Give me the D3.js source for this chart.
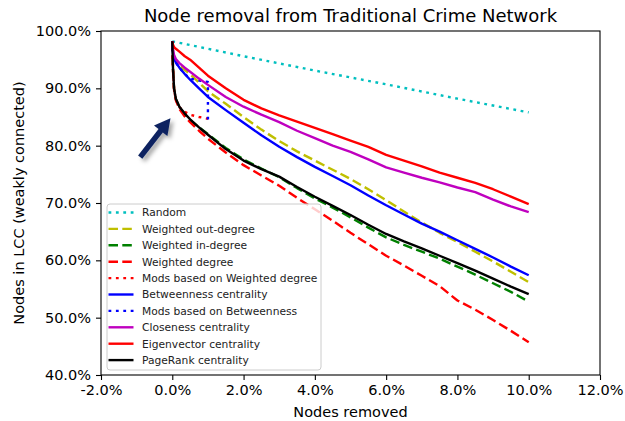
<!DOCTYPE html>
<html>
<head>
<meta charset="utf-8">
<script src="https://cdn.jsdelivr.net/npm/d3@7/dist/d3.min.js"></script>
<style>
  html, body { margin: 0; padding: 0; background: #fff; }
  svg { display: block; font-family: "DejaVu Sans", sans-serif; }
</style>
</head>
<body>
<svg id="chart" width="625" height="421"></svg>
<script>
// Share of nodes removed (%) at which each centrality-based attack was sampled
const removedPct = [0, 0.02, 0.05, 0.1, 0.2, 0.35, 0.5, 0.75, 1, 1.5, 2, 2.5, 3, 3.5, 4, 4.5, 5, 5.5, 6, 6.5, 7, 7.5, 8, 8.5, 9, 9.5, 10];

// Share of nodes left in the largest (weakly) connected component (%)
const outDegreeLcc   = [98.2, 96.5, 95.5, 94.8, 94.0, 93.2, 92.5, 91.0, 89.5, 87.3, 85.0, 82.8, 80.8, 79.0, 77.4, 75.8, 74.2, 72.4, 70.5, 68.5, 66.6, 64.8, 63.2, 61.5, 59.8, 58.0, 56.2];
const inDegreeLcc    = [98.2, 93.4, 89.9, 88.1, 86.7, 85.5, 84.5, 83.2, 82.0, 79.6, 77.6, 76.0, 74.5, 72.6, 70.8, 69.2, 67.5, 65.7, 64.0, 62.7, 61.5, 60.3, 58.9, 57.5, 56.0, 54.5, 52.8];
const degreeLcc      = [98.2, 93.2, 89.7, 87.9, 86.4, 85.1, 84.1, 82.6, 81.2, 78.8, 76.6, 74.8, 73.0, 70.9, 68.9, 66.9, 64.8, 62.8, 60.8, 59.1, 57.3, 55.5, 53.0, 51.4, 49.6, 47.7, 45.7];
const betweennessLcc = [98.2, 96.2, 95.2, 94.5, 93.6, 92.5, 91.5, 90.0, 88.5, 86.2, 84.0, 81.8, 79.8, 78.0, 76.3, 74.7, 73.1, 71.3, 69.6, 68.0, 66.4, 65.0, 63.5, 62.0, 60.5, 58.9, 57.4];
const closenessLcc   = [98.2, 96.8, 95.8, 95.1, 94.4, 93.6, 92.9, 91.7, 90.6, 88.5, 86.8, 85.4, 84.1, 82.6, 81.3, 80.0, 78.9, 77.6, 76.2, 75.3, 74.4, 73.6, 72.7, 71.9, 70.6, 69.4, 68.4];
const eigenvectorLcc = [98.2, 97.6, 97.2, 96.9, 96.4, 95.6, 95.0, 93.6, 92.2, 90.0, 88.0, 86.5, 85.3, 84.2, 83.1, 82.0, 80.9, 79.8, 78.4, 77.4, 76.4, 75.3, 74.4, 73.5, 72.4, 71.1, 69.8];
const pageRankLcc    = [98.2, 93.5, 90.0, 88.2, 86.8, 85.6, 84.6, 83.2, 81.9, 79.4, 77.4, 75.9, 74.6, 72.8, 71.1, 69.5, 67.9, 66.2, 64.6, 63.3, 62.1, 60.8, 59.5, 58.2, 56.8, 55.4, 54.1];

// Random removal baseline
const randomPct = [0, 2, 4, 6, 8, 10];
const randomLcc = [98.2, 95.6, 93.1, 90.7, 88.2, 85.8];

// Modified strategies, run only up to 1% removal
const modsDegreePct  = [0, 0.02, 0.05, 0.1, 0.2, 0.35, 0.5, 0.75, 1];
const modsDegreeLcc  = [98.2, 93.3, 89.8, 88.0, 86.7, 85.9, 85.4, 85.0, 84.7];
const modsBetweenPct = [0, 0.02, 0.05, 0.1, 0.2, 0.35, 0.5, 0.65, 0.8, 1, 1];
const modsBetweenLcc = [98.2, 96.2, 95.2, 94.5, 93.6, 92.5, 91.7, 91.5, 91.3, 91.1, 84.5];

// Axis ticks
const xTicks = [-2, 0, 2, 4, 6, 8, 10, 12];
const yTicks = [40, 50, 60, 70, 80, 90, 100];

// Annotation arrow (data coordinates: tail -> tip)
const arrowTail = [-0.9, 78.0];
const arrowTip  = [-0.05, 84.8];

const DOT = "2.8,4.6";
const DASH = "9.5,4.3";

const series = [
  { name: "Random",                        x: randomPct,      y: randomLcc,      color: "#00bfbf", dash: DOT },
  { name: "Weighted out-degree",           x: removedPct,     y: outDegreeLcc,   color: "#bfbf00", dash: DASH },
  { name: "Weighted in-degree",            x: removedPct,     y: inDegreeLcc,    color: "#008000", dash: DASH },
  { name: "Weighted degree",               x: removedPct,     y: degreeLcc,      color: "#ff0000", dash: DASH },
  { name: "Mods based on Weighted degree", x: modsDegreePct,  y: modsDegreeLcc,  color: "#ff0000", dash: DOT },
  { name: "Betweenness centrality",        x: removedPct,     y: betweennessLcc, color: "#0000ff", dash: null },
  { name: "Mods based on Betweenness",     x: modsBetweenPct, y: modsBetweenLcc, color: "#0000ff", dash: DOT },
  { name: "Closeness centrality",          x: removedPct,     y: closenessLcc,   color: "#bf00bf", dash: null },
  { name: "Eigenvector centrality",        x: removedPct,     y: eigenvectorLcc, color: "#ff0000", dash: null },
  { name: "PageRank centrality",           x: removedPct,     y: pageRankLcc,    color: "#000000", dash: null }
];

const svg = d3.select("#chart");
const margin = { left: 101, right: 25, top: 31, bottom: 46 };
const W = 625, H = 421;
const x = d3.scaleLinear().domain([-2, 12]).range([margin.left, W - margin.right]);
const y = d3.scaleLinear().domain([40, 100]).range([H - margin.bottom, margin.top]);

// Drop shadow for the arrow
const defs = svg.append("defs");
const f = defs.append("filter").attr("id", "shadow")
  .attr("x", "-50%").attr("y", "-50%").attr("width", "200%").attr("height", "200%");
f.append("feDropShadow").attr("dx", 3).attr("dy", 3).attr("stdDeviation", 2)
  .attr("flood-color", "#000").attr("flood-opacity", 0.35);

// Lines
const line = d3.line().x(d => x(d[0])).y(d => y(d[1]));
const lines = svg.append("g");
series.forEach(s => {
  const pts = s.x.map((v, i) => [v, s.y[i]]);
  lines.append("path")
    .attr("d", line(pts))
    .attr("fill", "none")
    .attr("stroke", s.color)
    .attr("stroke-width", 2.4)
    .attr("stroke-linejoin", "round")
    .attr("stroke-dasharray", s.dash);
});

// Axes
const fmt = d => d.toFixed(1) + "%";
const xAxis = svg.append("g").attr("transform", `translate(0,${H - margin.bottom})`)
  .call(d3.axisBottom(x).tickValues(xTicks).tickFormat(fmt).tickSize(5).tickPadding(5).tickSizeOuter(0));
const yAxis = svg.append("g").attr("transform", `translate(${margin.left},0)`)
  .call(d3.axisLeft(y).tickValues(yTicks).tickFormat(fmt).tickSize(5).tickPadding(5).tickSizeOuter(0));
[xAxis, yAxis].forEach(a => {
  a.selectAll("text").attr("font-size", "14.5px").attr("font-family", "DejaVu Sans").attr("fill", "#000");
  a.selectAll("line").attr("stroke", "#000").attr("stroke-width", 1.1);
  a.select(".domain").remove();
});

// Frame
svg.append("rect")
  .attr("x", margin.left).attr("y", margin.top)
  .attr("width", W - margin.left - margin.right)
  .attr("height", H - margin.top - margin.bottom)
  .attr("fill", "none").attr("stroke", "#000").attr("stroke-width", 1.1);

// Arrow annotation
{
  const [tx, ty] = [x(arrowTip[0]), y(arrowTip[1])];
  const [bx, by] = [x(arrowTail[0]), y(arrowTail[1])];
  const len = Math.hypot(tx - bx, ty - by);
  const ux = (tx - bx) / len, uy = (ty - by) / len;
  const px = -uy, py = ux;
  const headLen = 16, headHalf = 8.5, shaftHalf = 2.7;
  const hx = tx - ux * headLen, hy = ty - uy * headLen;
  const pts = [
    [bx + px * shaftHalf, by + py * shaftHalf],
    [hx + px * shaftHalf, hy + py * shaftHalf],
    [hx + px * headHalf, hy + py * headHalf],
    [tx, ty],
    [hx - px * headHalf, hy - py * headHalf],
    [hx - px * shaftHalf, hy - py * shaftHalf],
    [bx - px * shaftHalf, by - py * shaftHalf]
  ];
  svg.append("polygon")
    .attr("points", pts.map(p => p.join(",")).join(" "))
    .attr("fill", "#0c2461")
    .attr("filter", "url(#shadow)");
}

// Legend
const lg = svg.append("g");
const lgX = 107, lgY = 204, rowH = 16.4;
lg.append("rect")
  .attr("x", lgX).attr("y", lgY).attr("width", 214).attr("height", 166)
  .attr("rx", 3).attr("fill", "#fff").attr("fill-opacity", 0.8)
  .attr("stroke", "#cccccc").attr("stroke-width", 1);
series.forEach((s, i) => {
  const cy = lgY + 8.5 + i * rowH;
  lg.append("line")
    .attr("x1", lgX + 1.5).attr("x2", lgX + 26.5).attr("y1", cy).attr("y2", cy)
    .attr("stroke", s.color).attr("stroke-width", 2.4)
    .attr("stroke-dasharray", s.dash);
  lg.append("text")
    .attr("x", lgX + 35).attr("y", cy).attr("dy", "0.36em")
    .attr("font-size", "10.7px").attr("fill", "#222")
    .text(s.name);
});

// Titles
svg.append("text")
  .attr("x", (x(-2) + x(12)) / 2).attr("y", 22)
  .attr("text-anchor", "middle").attr("font-size", "18px").attr("fill", "#000")
  .text("Node removal from Traditional Crime Network");
svg.append("text")
  .attr("x", (x(-2) + x(12)) / 2).attr("y", 417)
  .attr("text-anchor", "middle").attr("font-size", "14.5px").attr("fill", "#000")
  .text("Nodes removed");
svg.append("text")
  .attr("transform", `translate(24,${(y(40) + y(100)) / 2}) rotate(-90)`)
  .attr("text-anchor", "middle").attr("font-size", "14.5px").attr("fill", "#000")
  .text("Nodes in LCC (weakly connected)");
</script>
</body>
</html>
